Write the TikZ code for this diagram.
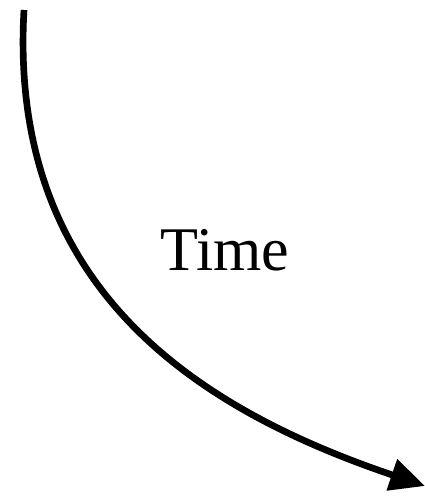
\documentclass[tikz,border=0pt]{standalone}
\usepackage{fontspec}
\setmainfont{Liberation Serif}
\usepackage{tikz}
\usetikzlibrary{arrows.meta,positioning}

\begin{document}
\begin{tikzpicture}[x=0.03cm, y=-0.03cm, >={Triangle[length=1.05cm, width=0.95cm]}]
\tikzstyle{label}=[inner sep=0pt, anchor=base, font=\fontsize{53}{62}\selectfont]
\tikzstyle{flow}=[line width=0.2cm]
\useasboundingbox (0,0) rectangle (425,496);
\coordinate (start) at (24,10);
\coordinate (tip) at (425,486);
\node[label] (time) at (225,270) {Time};
\draw[flow, ->] (start) .. controls (8,290) and (200,410) .. (tip);
\end{tikzpicture}
\end{document}
